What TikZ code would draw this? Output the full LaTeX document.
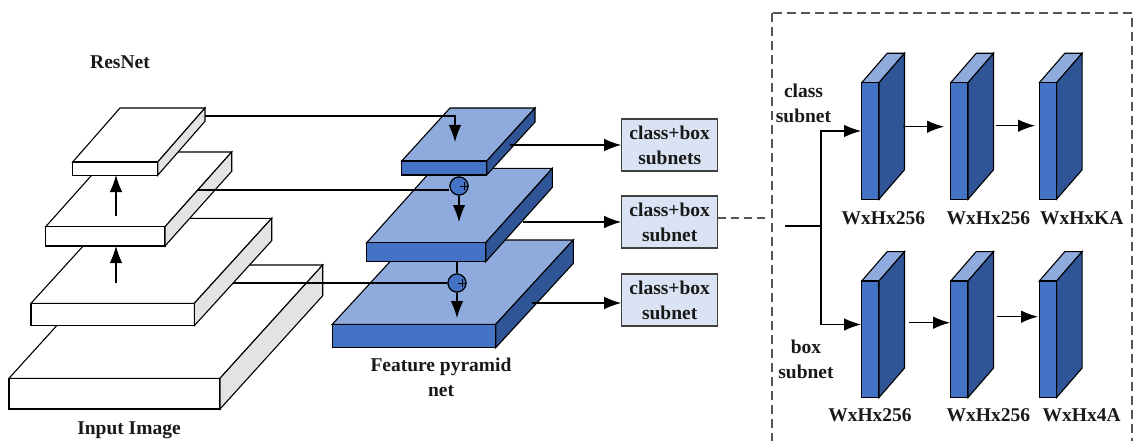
\documentclass[tikz,border=0pt]{standalone}
\usepackage{fontspec}
\setmainfont{Liberation Serif}
\usetikzlibrary{arrows.meta,calc}
\definecolor{fpntop}{HTML}{8FAADC}
\definecolor{fpnfront}{HTML}{4472C4}
\definecolor{fpnside}{HTML}{2F5597}
\definecolor{resside}{HTML}{E3E3E3}
\definecolor{boxfill}{HTML}{DAE3F3}
\definecolor{framegray}{HTML}{555555}
% slab: front top-left (#1,#2), width #3, thickness #4, depth (#5,#6); fills top/front/side
\newcommand{\layerslab}[9]{%
  \filldraw[fill=#7] (#1,#2) -- ++(#3,0) -- ++(#5,#6) -- ++(-#3,0) -- cycle;
  \filldraw[fill=#8] (#1,#2) rectangle ++(#3,#4);
  \filldraw[fill=#9] (#1+#3,#2) -- ++(#5,#6) -- ++(0,#4) -- (#1+#3,#2+#4) -- cycle;
}

\begin{document}
\begin{tikzpicture}[>={Latex[length=17pt,width=12.5pt]},x=1pt,y=-1pt,line width=1.1pt,
  lbl/.style={font=\bfseries\fontsize{19.5}{25}\selectfont,align=center,text=black!90},
  subbox/.style={lbl,draw=black!75,fill=boxfill,minimum width=96pt,minimum height=52pt,inner sep=0pt},
  sumnode/.style={circle,draw,fill=fpnfront,minimum size=18pt,inner sep=0pt},
  dashlink/.style={draw=framegray,dash pattern=on 8pt off 5pt}]
  \useasboundingbox (0,0) rectangle (1135,441);
  % ResNet layers, bottom one first
  \layerslab{9}{378.3}{211}{30.7}{102.7}{-113.3}{white}{white}{resside}
  \layerslab{31}{303.3}{163.3}{22.4}{77.4}{-85}{white}{white}{resside}
  \layerslab{45.7}{226.7}{119.3}{19.3}{66.7}{-74.7}{white}{white}{resside}
  \layerslab{72.7}{162}{85}{13.3}{47.3}{-54}{white}{white}{resside}
  \node[lbl] (resnet) at (120,62) {ResNet};
  \node[lbl] (input) at (129,430) {Input Image};
  % bottom-up arrows
  \coordinate (u1a) at (116,283);
  \coordinate (u1b) at (116,246);
  \coordinate (u2a) at (116,216);
  \coordinate (u2b) at (116,175);
  \draw[->] (u1a) -- (u1b);
  \draw[->] (u2a) -- (u2b);
  % Feature pyramid layers
  \layerslab{332.3}{324.3}{163.4}{23.4}{77.6}{-84.3}{fpntop}{fpnfront}{fpnside}
  \layerslab{366.7}{242.7}{119}{19}{66.7}{-74.4}{fpntop}{fpnfront}{fpnside}
  \layerslab{401.7}{161}{85}{14}{48.3}{-53}{fpntop}{fpnfront}{fpnside}
  \node[lbl] (fpn) at (441,377) {Feature pyramid\\net};
  % lateral connections
  \coordinate (r1) at (205,116);
  \coordinate (r2) at (197,190);
  \coordinate (r3) at (233,283);
  \coordinate (d1) at (455,142);
  \node[sumnode] (sum1) at (459,186) {};
  \node[sumnode] (sum2) at (457,283) {};
  \coordinate (f1bot) at (459,175);
  \coordinate (f2bot) at (457,261.7);
  \coordinate (d2) at (459,222);
  \coordinate (d3) at (457,318);
  \draw[->] (r1) -- (r1 -| d1) -- (d1);
  \draw (r2) -- (r2 -| sum1.west);
  \draw (r3) -- (sum2.west);
  \draw (f1bot) -- (sum1.north);
  \draw (f2bot) -- (sum2.north);
  \node[sumnode] at (sum1) {};
  \node[sumnode] at (sum2) {};
  \draw[line width=0.8pt] (sum1.center) ++(1,0) -- ++(8,0) (sum1.center) ++(5,-4) -- ++(0,8);
  \draw[line width=0.8pt] (sum2.center) ++(1,0) -- ++(8,0) (sum2.center) ++(5,-4) -- ++(0,8);
  \draw[->] (sum1.south) -- (d2);
  \draw[->] (sum2.south) -- (d3);
  % heads
  \node[subbox] (box1) at (669.7,145) {class+box\\subnets};
  \node[subbox] (box2) at (669.7,222) {class+box\\subnet};
  \node[subbox] (box3) at (669.7,300) {class+box\\subnet};
  \coordinate (f1out) at (510,145);
  \coordinate (f2out) at (523,222);
  \coordinate (f3out) at (531.7,303);
  \draw[->] (f1out) -- (f1out -| box1.west);
  \draw[->] (f2out) -- (f2out -| box2.west);
  \draw[->] (f3out) -- (f3out -| box3.west);
  % subnet detail
  \draw[draw=framegray,line width=1.8pt,dash pattern=on 9pt off 5pt] (771.7,13.3) rectangle (1132,470);
  \coordinate (frameL) at (768,218);
  \draw[dashlink] ([yshift=4pt]box2.east) -- (frameL);
  \foreach \cx in {861.7,950.7,1039.3}{
    \layerslab{\cx}{82.7}{17.3}{116.5}{25.5}{-29.4}{fpntop}{fpnfront}{fpnside}
    \layerslab{\cx}{281}{17.3}{116.5}{25.5}{-29.4}{fpntop}{fpnfront}{fpnside}
  }
  \coordinate (in) at (785,226);
  \coordinate (split) at (821,226);
  \coordinate (c11) at (861,131);
  \coordinate (c21) at (861,324.5);
  \draw (in) -- (split);
  \draw[->] (split) |- (c11);
  \draw[->] (split) |- (c21);
  \coordinate (a1) at (903.3,126.7);
  \coordinate (a2) at (944,126.7);
  \coordinate (a3) at (995.7,125.7);
  \coordinate (a4) at (1035,125.7);
  \coordinate (b1) at (909.3,322.7);
  \coordinate (b2) at (950,322.7);
  \coordinate (b3) at (996.7,316.7);
  \coordinate (b4) at (1038,316.7);
  \draw[->] (a1) -- (a2);
  \draw[->] (a3) -- (a4);
  \draw[->] (b1) -- (b2);
  \draw[->] (b3) -- (b4);
  \node[lbl] (clsname) at (803.5,103) {class\\subnet};
  \node[lbl] (boxname) at (806,359) {box\\subnet};
  \node[lbl] (t1) at (883.3,218) {WxHx256};
  \node[lbl] (t2) at (988.3,218) {WxHx256};
  \node[lbl] (t3) at (1081.7,218) {WxHxKA};
  \node[lbl] (b1l) at (870,415) {WxHx256};
  \node[lbl] (b2l) at (988.3,415) {WxHx256};
  \node[lbl] (b3l) at (1081.7,415) {WxHx4A};
\end{tikzpicture}
\end{document}
